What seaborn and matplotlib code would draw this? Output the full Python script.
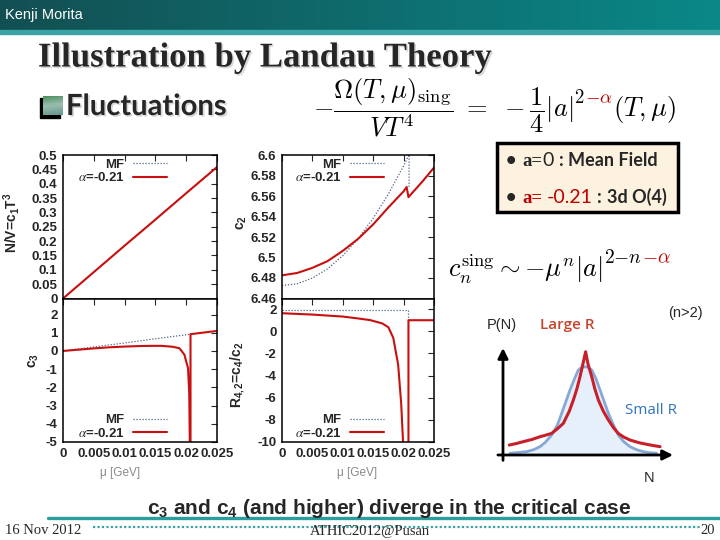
import matplotlib

matplotlib.use('Agg')
import matplotlib.patheffects as pe
import matplotlib.pyplot as plt
import numpy as np
import seaborn as sns
from matplotlib.colors import LinearSegmentedColormap
from matplotlib.patches import Rectangle

# values
mu_ticks = [0, 0.005, 0.01, 0.015, 0.02, 0.025]
mu_tick_labels = ['0', '0.005', '0.01', '0.015', '0.02', '0.025']

mu_c1 = [0, 0.005, 0.01, 0.015, 0.02, 0.025]
c1_mf = [0, 0.092, 0.184, 0.275, 0.367, 0.458]
c1_alpha = [0, 0.092, 0.184, 0.275, 0.367, 0.458]
c1_ticks = [0, 0.05, 0.1, 0.15, 0.2, 0.25, 0.3, 0.35, 0.4, 0.45, 0.5]

mu_c2_mf = [0, 0.0025, 0.005, 0.0075, 0.01, 0.0125, 0.015, 0.0175, 0.02, 0.0209, 0.0209]
c2_mf = [6.4726, 6.4744, 6.4799, 6.4890, 6.5018, 6.5182, 6.5383, 6.5620, 6.5894, 6.6005, 6.569]
mu_c2_alpha = [0, 0.0025, 0.005, 0.0075, 0.01, 0.0125, 0.015, 0.0175, 0.02, 0.0205, 0.0208, 0.023, 0.025]
c2_alpha = [6.4826, 6.4849, 6.4899, 6.4965, 6.5065, 6.5181, 6.5323, 6.5489, 6.5645, 6.5688, 6.5589, 6.5735, 6.5877]
c2_ticks = [6.46, 6.48, 6.5, 6.52, 6.54, 6.56, 6.58, 6.6]

mu_c3_mf = [0, 0.005, 0.01, 0.015, 0.0207]
c3_mf = [0, 0.22, 0.44, 0.67, 0.92]
mu_c3_alpha = [0, 0.0025, 0.005, 0.0075, 0.01, 0.0125, 0.0145, 0.016, 0.0178, 0.0189,
               0.0197, 0.0203, 0.0205, 0.0206, 0.0207, 0.0207, 0.025]
c3_alpha = [0, 0.07, 0.14, 0.2, 0.24, 0.27, 0.28, 0.28, 0.23, 0.15,
            -0.2, -0.95, -2.4, -5.5, -5.5, 0.92, 1.10]
c3_ticks = [-5, -4, -3, -2, -1, 0, 1, 2]

mu_r42_mf = [0, 0.0208, 0.0208]
r42_mf = [1.95, 1.95, 0.99]
mu_r42_alpha = [0, 0.005, 0.01, 0.0125, 0.0145, 0.0165, 0.0175, 0.0183, 0.0191, 0.0196,
                0.0200, 0.0208, 0.0208, 0.025]
r42_alpha = [1.62, 1.5, 1.32, 1.15, 1.0, 0.7, 0.35, -0.6, -3.0, -6.5,
             -11, -11, 0.99, 0.99]
r42_ticks = [-10, -8, -6, -4, -2, 0, 2]

# P(N) sketch, in fractions of the little axes
sketch_n_large = [0.037, 0.08, 0.120, 0.17, 0.218, 0.25, 0.286, 0.32, 0.355, 0.39, 0.414, 0.435, 0.453, 0.47,
                  0.486, 0.50, 0.522, 0.54, 0.561, 0.59, 0.620, 0.65, 0.678, 0.71, 0.747, 0.80, 0.845, 0.885, 0.924]
large_r = [0.093, 0.108, 0.125, 0.145, 0.171, 0.185, 0.202, 0.245, 0.296, 0.41, 0.514, 0.62, 0.732, 0.85,
           0.965, 0.85, 0.732, 0.62, 0.514, 0.41, 0.327, 0.255, 0.202, 0.168, 0.140, 0.115, 0.100, 0.088, 0.078]
sketch_n_small = [0.041, 0.139, 0.18, 0.218, 0.25, 0.286, 0.32, 0.345, 0.37, 0.394, 0.42, 0.443, 0.46, 0.482,
                  0.50, 0.522, 0.545, 0.571, 0.595, 0.620, 0.65, 0.678, 0.71, 0.747, 0.785, 0.825, 0.86, 0.904]
small_r = [0.016, 0.031, 0.05, 0.078, 0.12, 0.187, 0.28, 0.389, 0.5, 0.607, 0.71, 0.794, 0.815, 0.825,
           0.82, 0.794, 0.72, 0.607, 0.5, 0.389, 0.28, 0.187, 0.125, 0.078, 0.05, 0.031, 0.022, 0.016]

W, H = 720, 540
RED = '#c81010'
MF_COLOR = '#4f6388'

sns.set_style('white')
plt.rcParams['font.family'] = ['Liberation Sans', 'DejaVu Sans']
plt.rcParams['mathtext.fontset'] = 'custom'
plt.rcParams['mathtext.rm'] = 'Liberation Sans:bold'
plt.rcParams['mathtext.it'] = 'Liberation Sans:bold'
plt.rcParams['mathtext.bf'] = 'Liberation Sans:bold'


def px_rect(left, top, right, bottom):
    return [left / W, 1 - bottom / H, (right - left) / W, (bottom - top) / H]


def fx(x):
    return x / W


def fy(y):
    return 1 - y / H


def chain(fig, x, y, parts):
    # lay text pieces one after another on a common baseline (pixel coords)
    renderer = fig.canvas.get_renderer()
    for s, kw in parts:
        kw = dict(kw)
        dy = kw.pop('dy', 0)
        x += kw.pop('gap', 0)
        t = fig.text(fx(x), fy(y - dy), s, ha='left', va='baseline', **kw)
        x += t.get_window_extent(renderer).width
    return x


fig = plt.figure(figsize=(7.2, 5.4), dpi=100)

# header bar
hdr = fig.add_axes([0, fy(30), 1, 30 / H])
cmap = LinearSegmentedColormap.from_list('hdr', ['#134f52', '#0a8888'])
hdr.imshow(np.linspace(0, 1, 256)[None, :], aspect='auto', cmap=cmap, extent=(0, 1, 0, 1))
hdr.set_axis_off()
fig.patches.append(Rectangle((0, fy(34)), 1, 4 / H, transform=fig.transFigure, color='#3aa3a3'))
fig.text(fx(5), fy(15), 'Kenji Morita', color='white', size=10.5, va='center')

shadow = [pe.withSimplePatchShadow(offset=(1.2, -1.2), shadow_rgbFace='#b0b0b0', alpha=0.5)]
fig.text(fx(38), fy(58), 'Illustration by Landau Theory', family='Liberation Serif', weight='bold',
         size=25, va='center', path_effects=shadow)

# bullet square with its dark shadow
fig.patches.append(Rectangle((fx(40), fy(118)), 20 / W, 20 / H, transform=fig.transFigure,
                             color='black', zorder=-1))
icon = fig.add_axes(px_rect(43, 96, 63, 115))
icon_cmap = LinearSegmentedColormap.from_list('icon', ['#4f8f5f', '#9cc0b0', '#6a9890'])
icon.imshow(np.linspace(0, 1, 64).reshape(8, 8), cmap=icon_cmap, aspect='auto')
icon.set_axis_off()
fig.text(fx(66), fy(107), 'Fluctuations', family='Lato', weight='bold', size=21, va='center',
         path_effects=shadow)

math_kw = dict(math_fontfamily='cm', color='black')
chain(fig, 313, 116, [
    (r'$-\dfrac{\Omega(T,\mu)_{\mathrm{sing}}}{VT^4}\ =\ -\dfrac{1}{4}|a|$', dict(size=19, **math_kw)),
    (r'$2$', dict(size=13.5, dy=13, gap=1, **math_kw)),
    (r'$-\alpha$', dict(size=13.5, dy=13, math_fontfamily='cm', color='#c00000')),
    (r'$(T,\mu)$', dict(size=19, gap=1, **math_kw)),
])

# four gnuplot panels
panels = [
    (px_rect(63, 155, 217, 298.5), mu_c1, c1_mf, mu_c1, c1_alpha, (0, 0.5), c1_ticks,
     r'N/V=c$_1$T$^3$', (-0.265, 0.53), 'upper right', (0.675, 0.975), False),
    (px_rect(63, 298.5, 217, 442), mu_c3_mf, c3_mf, mu_c3_alpha, c3_alpha, (-5, 2.88), c3_ticks,
     r'c$_3$', (-0.14, 0.57), 'lower right', (0.675, 0.015), True),
    (px_rect(282, 155, 434, 298.5), mu_c2_mf, c2_mf, mu_c2_alpha, c2_alpha, (6.46, 6.6), c2_ticks,
     r'c$_2$', (-0.22, 0.53), 'upper right', (0.67, 0.975), False),
    (px_rect(282, 298.5, 434, 442), mu_r42_mf, r42_mf, mu_r42_alpha, r42_alpha, (-10, 2.95), r42_ticks,
     r'R$_{4,2}$=c$_4$/c$_2$', (-0.23, 0.47), 'lower right', (0.67, 0.015), True),
]

for rect, x_mf, y_mf, x_al, y_al, ylim, yticks, ylabel, lab_pos, loc, anchor, show_x in panels:
    ax = fig.add_axes(rect)
    sns.lineplot(x=x_mf, y=y_mf, ax=ax, color=MF_COLOR, lw=0.9, linestyle=(0, (1, 1.4)),
                 sort=False, estimator=None, label='MF')
    sns.lineplot(x=x_al, y=y_al, ax=ax, color=RED, lw=1.5, sort=False, estimator=None,
                 label=r'$\alpha$=-0.21')
    ax.set_xlim(0, 0.025)
    ax.set_ylim(*ylim)
    ax.set_xticks(mu_ticks)
    ax.set_xticklabels(mu_tick_labels if show_x else [''] * len(mu_ticks))
    ax.set_yticks(yticks)
    ax.set_yticklabels([f'{v:g}' for v in yticks])
    ax.tick_params(direction='in', length=4, width=0.8, top=True, right=True, labelsize=9.5, pad=4)
    for lbl in ax.get_xticklabels() + ax.get_yticklabels():
        lbl.set_fontweight('bold')
    for sp in ax.spines.values():
        sp.set_linewidth(1.1)
        sp.set_color('black')
    ax.set_xlabel('')
    ax.set_ylabel(ylabel, size=10, weight='bold')
    ax.yaxis.set_label_coords(*lab_pos)
    leg = ax.legend(loc=loc, bbox_to_anchor=anchor, frameon=False, markerfirst=False,
                    handlelength=2.6, handletextpad=0.6, labelspacing=0.05, borderpad=0,
                    borderaxespad=0, prop={'family': 'Liberation Sans', 'weight': 'bold', 'size': 9.5})
    for t in leg.get_texts():
        t.set_math_fontfamily('stix')

fig.text(fx(120), fy(473), 'μ [GeV]', color='#8a8a8a', size=8.5, ha='center', va='center')
fig.text(fx(357), fy(473), 'μ [GeV]', color='#8a8a8a', size=8.5, ha='center', va='center')

# box with the two exponents
fig.patches.append(Rectangle((fx(497), fy(212)), 181 / W, 69 / H, transform=fig.transFigure,
                             facecolor='#fcf2df', edgecolor='black', lw=2.5))
sans_b = dict(family='Lato', weight='bold', size=13)
serif_b = dict(family='Liberation Serif', weight='bold', size=13.5)
chain(fig, 506, 166, [
    ('•', dict(sans_b)),
    ('a=', dict(serif_b, gap=6)),
    ('0', dict(family='Lato', size=14)),
    (':', dict(sans_b, gap=5)),
    ('Mean Field', dict(sans_b, gap=5)),
])
chain(fig, 506, 203, [
    ('•', dict(sans_b)),
    ('a=', dict(serif_b, gap=6, color='#c00000')),
    ('-0.21', dict(family='Lato', size=14, gap=4, color='#c00000')),
    (':', dict(sans_b, gap=5)),
    ('3d O(4)', dict(sans_b, gap=5)),
])

chain(fig, 448, 277, [
    (r'$c_n^{\mathrm{sing}}\sim{-}\mu^n|a|$', dict(size=19, **math_kw)),
    (r'$2{-}n$', dict(size=14, dy=14, gap=1, **math_kw)),
    (r'${-}\alpha$', dict(size=14, dy=14, gap=0, math_fontfamily='cm', color='#c00000')),
])

fig.text(fx(668), fy(313), '(n>2)', size=10.5, va='center')
fig.text(fx(487), fy(325), 'P(N)', size=10.5, va='center')
fig.text(fx(540), fy(325), 'Large R', family='Open Sans', weight='semibold', size=11,
         color='#c5452c', va='center')
fig.text(fx(625), fy(410), 'Small R', family='Open Sans', size=11, color='#2e72c0', va='center')
fig.text(fx(644), fy(478), 'N', size=10.5, va='center')

# P(N) sketch
sk = fig.add_axes(px_rect(503, 348, 673, 455))
sk.fill_between(sketch_n_small, small_r, color='#e6f0fa', lw=0)
sns.lineplot(x=sketch_n_small, y=small_r, ax=sk, color='#86a8d6', lw=2, sort=False, estimator=None)
sns.lineplot(x=sketch_n_large, y=large_r, ax=sk, color='#c8202a', lw=2.2, sort=False, estimator=None)
sk.set_xlim(0, 1)
sk.set_ylim(0, 1)
sk.set_axis_off()
arrow = dict(arrowstyle='-|>,head_length=0.6,head_width=0.3', lw=2, color='black', shrinkA=0, shrinkB=0)
sk.annotate('', xy=(0, 1.0), xytext=(0, -0.05), xycoords='axes fraction', arrowprops=arrow)
sk.annotate('', xy=(1.0, 0), xytext=(-0.03, 0), xycoords='axes fraction', arrowprops=arrow)

# footer
fig.text(fx(389), fy(509), r'c$_3$ and c$_4$ (and higher) diverge in the critical case',
         size=15, weight='bold', ha='center', va='center')
fig.lines.append(plt.Line2D([fx(48), 1], [fy(518), fy(518)], transform=fig.transFigure,
                            color='#2a9d9d', lw=2.4))
fig.lines.append(plt.Line2D([fx(93), fx(700)], [fy(527), fy(527)], transform=fig.transFigure,
                            color='#3aa3a3', lw=1.6, linestyle=(0, (1, 1))))
foot = dict(family='Liberation Serif', size=10.5, va='center')
fig.text(fx(5), fy(531), '16 Nov 2012', **foot)
fig.text(fx(370), fy(531), 'ATHIC2012@Pusan', ha='center', **foot)
fig.text(fx(700), fy(531), '20', **foot)

fig.savefig('out.png', dpi=100)
plt.close(fig)
